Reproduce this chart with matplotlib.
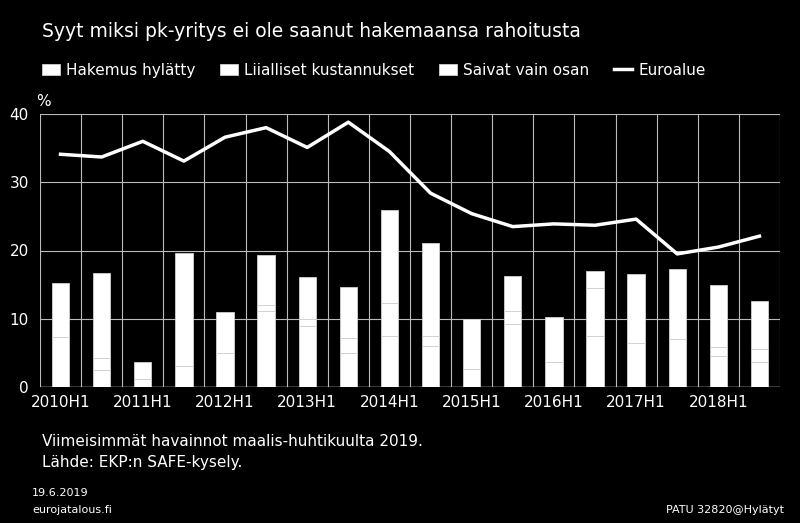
import matplotlib
matplotlib.use("Agg")
import matplotlib.pyplot as plt
import numpy as np

periods = ["2010H1","2010H2","2011H1","2011H2","2012H1","2012H2","2013H1","2013H2","2014H1","2014H2",
           "2015H1","2015H2","2016H1","2016H2","2017H1","2017H2","2018H1","2018H2"]
hylatty = [7.3, 2.5, 1.1, 3.1, 5.0, 11.1, 9.0, 5.0, 7.4, 6.0, 2.6, 9.3, 3.7, 7.4, 6.4, 7.0, 4.6, 3.7]
kustannukset = [0.0, 1.7, 0.0, 0.0, 0.0, 0.9, 1.0, 2.2, 4.9, 1.4, 0.0, 1.8, 0.0, 7.1, 0.0, 0.0, 1.3, 1.9]
total = [15.2, 16.7, 3.6, 19.6, 11.0, 19.4, 16.1, 14.7, 26.0, 21.1, 10.0, 16.2, 10.3, 17.0, 16.6, 17.3, 14.9, 12.6]
euroalue = [34.1, 33.7, 36.0, 33.1, 36.6, 38.0, 35.1, 38.8, 34.5, 28.4, 25.4, 23.5, 23.9, 23.7, 24.6, 19.5, 20.5, 22.1]
osan = [t - a - b for t, a, b in zip(total, hylatty, kustannukset)]

fig = plt.figure(figsize=(8, 5.23), dpi=100, facecolor="black")
ax = fig.add_axes([0.05, 1 - 387/523, 0.925, (387-114)/523], facecolor="black")
x = np.arange(len(periods))
w = 0.42
kw = dict(width=w, color="white", edgecolor="#d0d0d0", linewidth=0.6, zorder=3)
ax.bar(x, hylatty, label="Hakemus hylätty", **kw)
ax.bar(x, kustannukset, bottom=hylatty, label="Liialliset kustannukset", **kw)
ax.bar(x, osan, bottom=np.add(hylatty, kustannukset), label="Saivat vain osan", **kw)
ax.plot(x, euroalue, color="white", lw=2.5, label="Euroalue", zorder=4)

ax.set_xlim(-0.5, len(periods) - 0.5)
ax.set_ylim(0, 40)
ax.set_yticks([0, 10, 20, 30, 40])
ax.set_xticks(x[::2])
ax.set_xticklabels(periods[::2])
ax.set_xticks(np.arange(-0.5, len(periods), 1), minor=True)
ax.grid(axis="y", color="#bbbbbb", lw=0.8, zorder=0)
ax.grid(axis="x", which="minor", color="#bbbbbb", lw=0.8, zorder=0)
ax.tick_params(colors="white", labelsize=11, length=0, which="both")
ax.tick_params(axis="y", pad=8)
ax.tick_params(axis="x", pad=6)
for s in ax.spines.values():
    s.set_visible(False)
ax.axhline(0, color="white", lw=1, zorder=5)

fig.text(0.052, 0.94, "Syyt miksi pk-yritys ei ole saanut hakemaansa rahoitusta", color="white", fontsize=13.5, va="center")
h, l = ax.get_legend_handles_labels()
order = [1, 2, 3, 0]
fig.legend([h[i] for i in order], [l[i] for i in order], loc="center left", bbox_to_anchor=(0.035, 0.866),
           ncol=4, frameon=False, fontsize=11, labelcolor="white", handlelength=1.2,
           columnspacing=1.6, handletextpad=0.4)
fig.text(0.045, 0.806, "%", color="white", fontsize=11, va="center")
fig.text(0.052, 0.155, "Viimeisimmät havainnot maalis-huhtikuulta 2019.", color="white", fontsize=11, va="center")
fig.text(0.052, 0.115, "Lähde: EKP:n SAFE-kysely.", color="white", fontsize=11, va="center")
fig.text(0.04, 0.058, "19.6.2019", color="white", fontsize=8, va="center")
fig.text(0.04, 0.024, "eurojatalous.fi", color="white", fontsize=8, va="center")
fig.text(0.98, 0.024, "PATU 32820@Hylätyt", color="white", fontsize=8, va="center", ha="right")
fig.savefig("out.png", dpi=100, facecolor="black")
